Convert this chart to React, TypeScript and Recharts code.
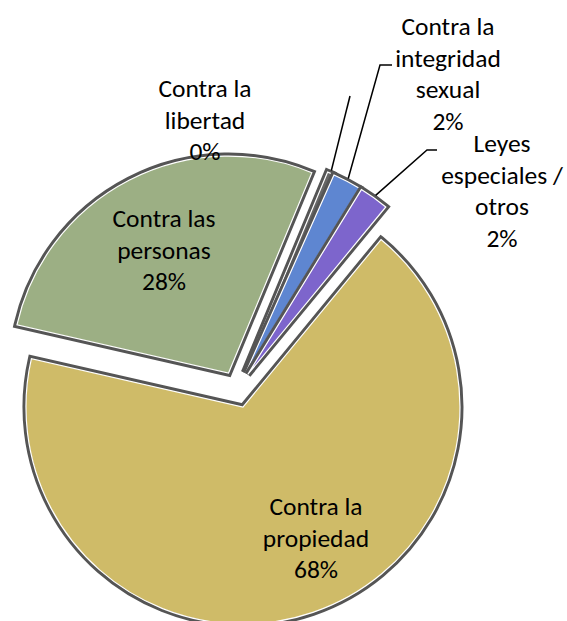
import React from 'react';
import { PieChart, Pie, Cell } from 'recharts';

// slice names (line breaks as in the original labels), shares in %
const categories = [
  'Contra las\npersonas',
  'Contra la\nlibertad',
  'Contra la\nintegridad\nsexual',
  'Leyes\nespeciales /\notros',
  'Contra la\npropiedad',
];
const shares = [27.7, 0.4, 2.1, 2.2, 67.6];
const colors = ['#9CAF84', '#666666', '#5E86D1', '#7D65CC', '#CFBB68'];

const data = categories.map((name, i) => ({ name, value: shares[i] }));

// layout
const CX = 237;
const CY = 389.5;
const RADIUS = 217;
const EXPLODE = 18.5;
const START = 167.14; // clockwise, like excel
const END = START - 360;
const LINE_H = 31.7;
const FONT = 'Carlito, Calibri, Lato, sans-serif';

// label text center x / first baseline y, and leader line bend points
const labelPos = [
  { x: 164, y: 227 },
  { x: 205, y: 97 },
  { x: 448, y: 35 },
  { x: 502, y: 152 },
  { x: 316, y: 515 },
];
const leaders: (number[][] | null)[] = [
  null,
  [[350, 96]],
  [[380, 65], [392, 65]],
  [[427, 150], [437, 150]],
  null,
];

const RAD = Math.PI / 180;
const total = shares.reduce((a, b) => a + b, 0);
const offsets: { dx: number; dy: number }[] = [];
let acc = START;
shares.forEach((v) => {
  const sweep = (v / total) * 360;
  const mid = acc - sweep / 2;
  offsets.push({ dx: EXPLODE * Math.cos(mid * RAD), dy: -EXPLODE * Math.sin(mid * RAD) });
  acc -= sweep;
});

const renderLabel = (props: any) => {
  const { cx, cy, midAngle, outerRadius, percent, index } = props;
  const pos = labelPos[index];
  const lines = [...categories[index].split('\n'), `${Math.round(percent * 100)}%`];
  const leader = leaders[index];
  let line = null;
  if (leader) {
    const r = outerRadius + 3;
    const sx = cx + offsets[index].dx + r * Math.cos(-midAngle * RAD);
    const sy = cy + offsets[index].dy + r * Math.sin(-midAngle * RAD);
    const pts = [[sx, sy], ...leader].map((p) => p.join(',')).join(' ');
    line = <polyline points={pts} fill="none" stroke="#000" strokeWidth={1.5} />;
  }
  return (
    <g key={`lbl-${index}`}>
      {line}
      <text textAnchor="middle" fontFamily={FONT} fontSize={25.5} fill="#000">
        {lines.map((l, k) => (
          <tspan key={k} x={pos.x} y={pos.y + k * LINE_H}>
            {l}
          </tspan>
        ))}
      </text>
    </g>
  );
};

export default function App() {
  return (
    <div style={{ position: 'absolute', left: 0, top: 0, width: 567, height: 621, background: '#fff' }}>
      <PieChart width={567} height={621} margin={{ top: 0, right: 0, bottom: 0, left: 0 }}>
        {data.map((_, i) =>
          [0, 1].map((layer) => (
            <Pie
              key={`slice-${i}-${layer}`}
              data={data}
              dataKey="value"
              nameKey="name"
              cx={CX + offsets[i].dx}
              cy={CY + offsets[i].dy}
              outerRadius={RADIUS}
              startAngle={START}
              endAngle={END}
              labelLine={false}
              isAnimationActive={false}
            >
              {data.map((d, j) => (
                <Cell
                  key={`c-${j}`}
                  fill={j === i ? colors[j] : 'none'}
                  stroke={j === i ? (layer === 0 ? '#555555' : '#ffffff') : 'none'}
                  strokeWidth={layer === 0 ? 7 : 1.2}
                />
              ))}
            </Pie>
          ))
        )}
        <Pie
          data={data}
          dataKey="value"
          nameKey="name"
          cx={CX}
          cy={CY}
          outerRadius={RADIUS}
          startAngle={START}
          endAngle={END}
          labelLine={false}
          label={renderLabel}
          isAnimationActive={false}
        >
          {data.map((d, j) => (
            <Cell key={`l-${j}`} fill="none" stroke="none" />
          ))}
        </Pie>
      </PieChart>
    </div>
  );
}
